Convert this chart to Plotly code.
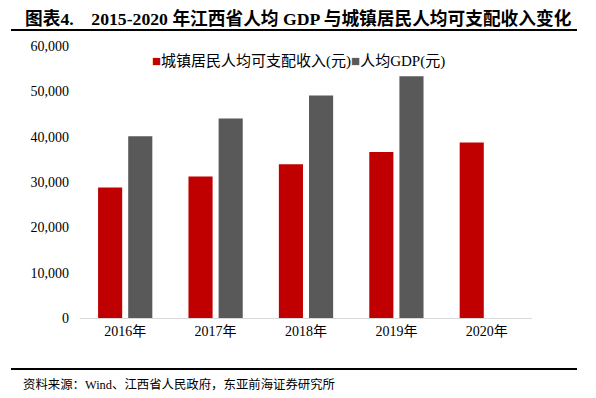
import plotly.graph_objects as go

categories = ["2016年", "2017年", "2018年", "2019年", "2020年"]
income = [28800, 31200, 33900, 36600, 38700]
gdp = [40100, 44000, 49100, 53300, None]
series_names = ["城镇居民人均可支配收入(元)", "人均GDP(元)"]
series_colors = ["#C00000", "#595959"]
y_ticks = [0, 10000, 20000, 30000, 40000, 50000, 60000]
y_tick_labels = ["0", "10,000", "20,000", "30,000", "40,000", "50,000", "60,000"]

FONT = "Liberation Serif, Times New Roman, Noto Sans CJK SC, serif"

fig = go.Figure()
fig.add_trace(go.Bar(x=categories, y=income, name=series_names[0],
                     marker=dict(color=series_colors[0], line=dict(width=0))))
fig.add_trace(go.Bar(x=categories, y=gdp, name=series_names[1],
                     marker=dict(color=series_colors[1], line=dict(width=0))))

W, H = 596, 398
L, R, T, B = 80, 64, 46, 80
pw, ph = W - L - R, H - T - B

def px(p):
    return (p - L) / pw

def py(q):
    return (H - B - q) / ph

fig.update_layout(
    width=W, height=H,
    margin=dict(l=L, r=R, t=T, b=B),
    paper_bgcolor="white", plot_bgcolor="white",
    barmode="group", bargap=0.333, bargroupgap=0.2,
    font=dict(family=FONT, size=14, color="#000000"),
    showlegend=False,
    xaxis=dict(showgrid=False, showline=True, linecolor="#D9D9D9", linewidth=1,
               ticks="", tickfont=dict(size=14, family=FONT), zeroline=False),
    yaxis=dict(range=[0, 60000], tickvals=y_ticks, ticktext=y_tick_labels,
               showgrid=False, showline=False, zeroline=False, ticks="",
               ticklabelstandoff=10, tickfont=dict(size=14, family=FONT)),
)

legend_text = "".join(
    f'<span style="color:{c};font-size:15px">■</span>{n}' for n, c in zip(series_names, series_colors)
)
fig.add_annotation(text=legend_text, xref="paper", yref="paper", x=px(298), y=py(61.5),
                   xanchor="center", yanchor="middle", showarrow=False,
                   font=dict(size=15, family=FONT, color="#000000"))

fig.add_annotation(text="<b>图表4.    2015-2020 年江西省人均 GDP 与城镇居民人均可支配收入变化</b>",
                   xref="paper", yref="paper", x=px(22.5), y=py(18.3), xanchor="left", yanchor="middle",
                   showarrow=False, font=dict(size=17.7, family=FONT, color="#000000"))
fig.add_annotation(text="资料来源：Wind、江西省人民政府，东亚前海证券研究所",
                   xref="paper", yref="paper", x=px(20.5), y=py(384), xanchor="left", yanchor="middle",
                   showarrow=False, font=dict(size=12.4, family=FONT, color="#000000"))
fig.add_shape(type="line", xref="paper", yref="paper", x0=px(11), x1=px(577), y0=py(30), y1=py(30),
              line=dict(color="#000000", width=2))
fig.add_shape(type="line", xref="paper", yref="paper", x0=px(11), x1=px(577), y0=py(369), y1=py(369),
              line=dict(color="#000000", width=2))

fig.write_html("out.html", config={"displayModeBar": False},
               post_script="document.body.style.margin='0px';")
